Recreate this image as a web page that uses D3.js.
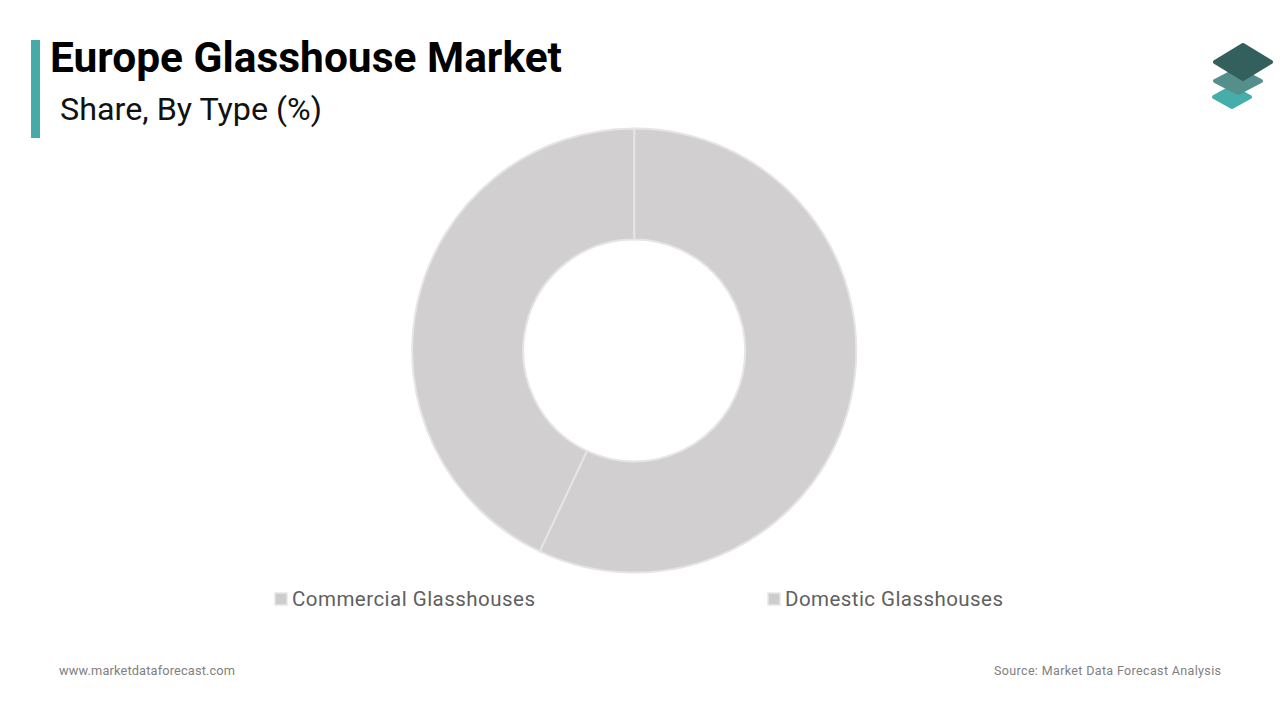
<!DOCTYPE html>
<html><head><meta charset="utf-8">
<script src="https://cdn.jsdelivr.net/npm/d3@7/dist/d3.min.js"></script>
<style>html,body{margin:0;padding:0;background:#fff}svg{display:block;font-family:Roboto,sans-serif}</style>
</head><body><div id="c"></div>
<script>
const categories=["Commercial Glasshouses","Domestic Glasshouses"];
const values=[57,43];
const titleText="Europe Glasshouse Market";
const subtitleText="Share, By Type (%)";
const leftNote="www.marketdataforecast.com";
const rightNote="Source: Market Data Forecast Analysis";
const W=1280,H=720;
const svg=d3.select("#c").append("svg").attr("width",W).attr("height",H).attr("viewBox",[0,0,W,H]);
svg.append("rect").attr("x",31).attr("y",40).attr("width",9).attr("height",98).attr("fill","#45aaa8");
svg.append("text").attr("x",50).attr("y",72).attr("font-size",42).attr("font-weight",700).attr("fill","#000").attr("textLength",512).attr("lengthAdjust","spacingAndGlyphs").text(titleText);
svg.append("text").attr("x",60).attr("y",120).attr("font-size",32).attr("fill","#111").attr("textLength",262).attr("lengthAdjust","spacingAndGlyphs").text(subtitleText);
const pie=d3.pie().sort(null).value(d=>d);
const arc=d3.arc().innerRadius(111).outerRadius(222);
const g=svg.append("g").attr("transform","translate(634.2,350.5)");
g.selectAll("path").data(pie(values)).join("path").attr("d",arc).attr("fill","#d1cfcf").attr("stroke","#e6e5e5").attr("stroke-width",2);
const legendX=d3.scaleOrdinal().domain(categories).range([275,768]);
const legendLen=d3.scaleOrdinal().domain(categories).range([243,218]);
const lg=svg.selectAll("g.l").data(categories).join("g").attr("class","l").attr("transform",d=>`translate(${legendX(d)},593)`);
lg.append("rect").attr("width",12).attr("height",12).attr("fill","#cdcdcd").attr("stroke","#e6e6e6").attr("stroke-width",1.5);
lg.append("text").attr("x",17).attr("y",13).attr("font-size",20.5).attr("fill","#606060").attr("textLength",d=>legendLen(d)).attr("lengthAdjust","spacing").text(d=>d);
svg.append("text").attr("x",59).attr("y",675).attr("font-size",12.8).attr("fill","#808080").attr("textLength",176).text(leftNote);
svg.append("text").attr("x",994).attr("y",675).attr("font-size",12.5).attr("fill","#808080").attr("textLength",227).text(rightNote);
const logo=svg.append("g");
const layers=[{cx:1232,cy:97,rx:18,ry:10,f:"#45aeaa"},{cx:1238,cy:81,rx:23,ry:12,f:"#558f8b"},{cx:1243,cy:62,rx:28,ry:17,f:"#33605c"}];
layers.forEach(l=>{
 logo.append("path").attr("d",d3.line()([[l.cx,l.cy-l.ry],[l.cx+l.rx,l.cy],[l.cx,l.cy+l.ry],[l.cx-l.rx,l.cy]])+"Z").attr("fill",l.f).attr("stroke",l.f).attr("stroke-width",4).attr("stroke-linejoin","round");
});
</script></body></html>
